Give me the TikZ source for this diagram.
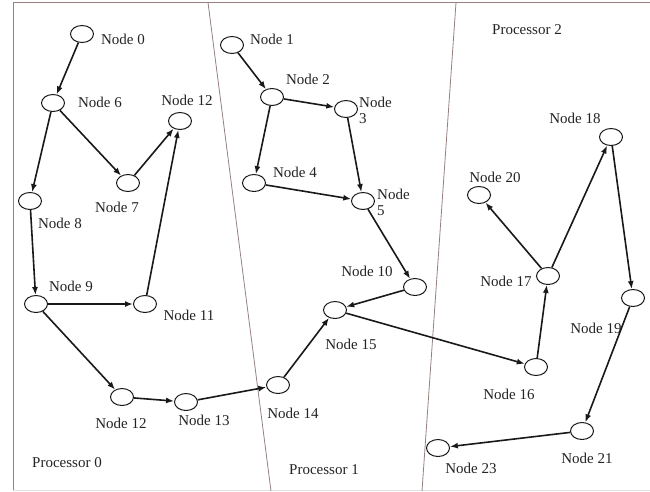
\documentclass[tikz,border=0pt]{standalone}
\usepackage{fontspec}
\setmainfont{Liberation Serif}
\usetikzlibrary{shapes.geometric,arrows.meta}
\definecolor{frame}{RGB}{150,128,128}
\definecolor{ink}{RGB}{25,25,25}
\definecolor{txt}{RGB}{35,35,35}
\begin{document}
\begin{tikzpicture}[x=1pt,y=-1pt,
  task/.style={ellipse,draw=ink,line width=1pt,fill=white,minimum width=23pt,minimum height=17pt,inner sep=0pt},
  lbl/.style={inner sep=0pt,text=txt,font=\fontsize{15}{16}\selectfont},
  edge/.style={draw=ink,line width=1.6pt,-{Latex[length=8pt,width=6pt]}},
  divider/.style={draw=frame,line width=0.8pt}]
\useasboundingbox (0,0) rectangle (650,491);
% frame and processor boundaries
\draw[divider] (13,491) -- (13,2.5) -- (650,2.5);
\draw[draw=black!12,line width=0.6pt] (13,490) -- (650,490);
\draw[divider] (208,2.5) -- (271,491);
\draw[divider] (456,2.5) -- (422,491);
% processor captions
\node[lbl] (p0) at (67,463) {Processor 0};
\node[lbl] (p1) at (324,470) {Processor 1};
\node[lbl] (p2) at (527,30) {Processor 2};
% tasks
\node[task] (n0) at (82,34) {};
\node[task] (n6) at (53,103) {};
\node[task] (n12a) at (180,121) {};
\node[task] (n7) at (128,183) {};
\node[task] (n8) at (30,201) {};
\node[task] (n9) at (36,304) {};
\node[task] (n11) at (145,304) {};
\node[task] (n12b) at (122,397) {};
\node[task] (n13) at (186,402) {};
\node[task] (n14) at (278,385) {};
\node[task] (n15) at (335,310) {};
\node[task] (n10) at (415,287) {};
\node[task] (n1) at (232,45) {};
\node[task] (n2) at (272,97) {};
\node[task] (n3) at (346,109) {};
\node[task] (n4) at (254,183) {};
\node[task] (n5) at (363,201) {};
\node[task] (n18) at (611,137) {};
\node[task] (n20) at (479,195) {};
\node[task] (n17) at (548,276) {};
\node[task] (n19) at (633,298) {};
\node[task] (n16) at (536,367) {};
\node[task] (n21) at (582,431) {};
\node[task] (n23) at (438,448) {};
% task labels
\node[lbl] (t0) at (123,39) {Node 0};
\node[lbl] (t6) at (100,102) {Node 6};
\node[lbl] (t12a) at (187,100) {Node 12};
\node[lbl] (t7) at (117,207) {Node 7};
\node[lbl] (t8) at (60,223) {Node 8};
\node[lbl] (t9) at (71,286) {Node 9};
\node[lbl] (t11) at (189,315) {Node 11};
\node[lbl] (t12b) at (121,423) {Node 12};
\node[lbl] (t13) at (204,420) {Node 13};
\node[lbl] (t14) at (293,413) {Node 14};
\node[lbl] (t15) at (351,344) {Node 15};
\node[lbl] (t10) at (367,271) {Node 10};
\node[lbl] (t1) at (272,39) {Node 1};
\node[lbl] (t2) at (308,79) {Node 2};
\node[lbl,anchor=west,align=left] (t3) at (359,110) {Node\\3};
\node[lbl] (t4) at (295,172) {Node 4};
\node[lbl,anchor=west,align=left] (t5) at (377,202) {Node\\5};
\node[lbl] (t18) at (575,118) {Node 18};
\node[lbl] (t20) at (495,177) {Node 20};
\node[lbl] (t17) at (506,281) {Node 17};
\node[lbl] (t19) at (596,328) {Node 19};
\node[lbl] (t16) at (509,394) {Node 16};
\node[lbl] (t21) at (587,458) {Node 21};
\node[lbl] (t23) at (471,468) {Node 23};
% dependencies
\draw[edge] (n0) -- (n6);
\draw[edge] (n6) -- (n8);
\draw[edge] (n6) -- (n7);
\draw[edge] (n7) -- (n12a);
\draw[edge] (n8) -- (n9);
\draw[edge] (n9) -- (n11);
\draw[edge] (n11) -- (n12a);
\draw[edge] (n9) -- (n12b);
\draw[edge] (n12b) -- (n13);
\draw[edge] (n13) -- (n14);
\draw[edge] (n14) -- (n15);
\draw[edge] (n10) -- (n15);
\draw[edge] (n15) -- (n16);
\draw[edge] (n16) -- (n17);
\draw[edge] (n17) -- (n20);
\draw[edge] (n17) -- (n18);
\draw[edge] (n18) -- (n19);
\draw[edge] (n19) -- (n21);
\draw[edge] (n21) -- (n23);
\draw[edge] (n1) -- (n2);
\draw[edge] (n2) -- (n3);
\draw[edge] (n2) -- (n4);
\draw[edge] (n3) -- (n5);
\draw[edge] (n4) -- (n5);
\draw[edge] (n5) -- (n10);
\end{tikzpicture}
\end{document}
